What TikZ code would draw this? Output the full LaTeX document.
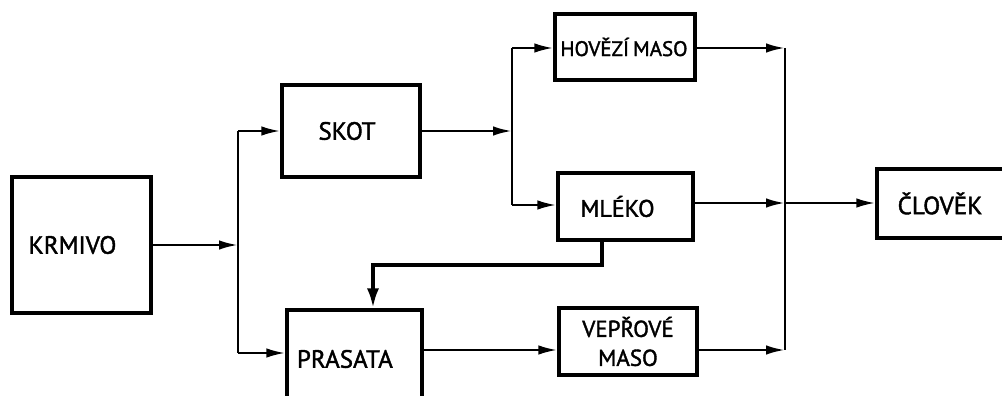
\documentclass[tikz,border=0pt]{standalone}
\usepackage{fontspec}
\setmainfont{PT Sans}[BoldFont=PT Sans,BoldFeatures={FakeBold=1.6}]
\usetikzlibrary{arrows.meta,calc}
\begin{document}
\begin{tikzpicture}[x=1pt,y=-1pt,
  block/.style={draw,line width=3.2pt,inner sep=0pt,anchor=center,font=\bfseries\fontsize{25}{27}\selectfont},
  flow/.style={line width=2.5pt,-{Latex[length=19pt,width=9.5pt]}},
  bus/.style={line width=2.5pt},
  feed/.style={line width=3.8pt,-{Latex[length=20pt,width=12pt]}}]
\useasboundingbox (0,0) rectangle (1002,396);
\clip (0,0) rectangle (1002,396);

% boxes
\node[block,minimum width=139pt,minimum height=136pt] (krmivo) at (81.5,245) {KRMIVO\kern18pt};
\node[block,minimum width=138pt,minimum height=92pt] (skot) at (351,131) {SKOT\kern8pt};
\node[block,minimum width=135pt,minimum height=110pt,
      label={[anchor=west,xshift=8pt,yshift=6pt,font=\bfseries\fontsize{25}{27}\selectfont]west:PRASATA}] (prasata) at (354.5,365) {};
\node[block,minimum width=140pt,minimum height=66pt,font=\bfseries\fontsize{21}{23}\selectfont] (hovezi) at (625,47) {\raisebox{-7pt}{HOVĚZÍ\kern4pt MASO}\kern2pt};
\node[block,minimum width=135pt,minimum height=67pt,font=\bfseries\fontsize{24}{26}\selectfont] (mleko) at (625.5,206.5) {\raisebox{-4pt}{MLÉKO}\kern16pt};
\node[block,minimum width=138pt,minimum height=67pt,align=center,font=\bfseries\fontsize{23}{29}\selectfont] (veprove) at (628,341.5) {VEPŘOVÉ\\MASO};
\node[block,minimum width=140pt,minimum height=69pt] (clovek) at (947,203.5) {\raisebox{-3pt}{ČLOVĚK}\kern14pt};

% distribution points
\coordinate (b1) at (238,245);
\coordinate (b1t) at (238,131);
\coordinate (b1b) at (238,353);
\coordinate (b2) at (512,131);
\coordinate (b2t) at (512,48);
\coordinate (b2b) at (512,205);
\coordinate (b3t) at (785,48);
\coordinate (b3m) at (785,203);
\coordinate (b3b) at (785,350);
\coordinate (m1) at (602,265);
\coordinate (m2) at (373,265);

% feed to livestock
\draw[flow] (krmivo.east |- b1) -- (b1);
\draw[bus] (b1t) -- (b1b);
\draw[flow] (b1t) -- (skot.west |- b1t);
\draw[flow] (b1b) -- (prasata.west |- b1b);

% cattle products
\draw[flow] (skot.east |- b2) -- (b2);
\draw[bus] (b2t) -- (b2b);
\draw[flow] (b2t) -- (hovezi.west |- b2t);
\draw[flow] (b2b) -- (mleko.west |- b2b);

% milk by-product to pigs
\draw[feed] (mleko.south -| m1) -- (m1) -- (m2) -- (prasata.north -| m2);

% pork
\draw[flow] (prasata.east |- b3b) -- (veprove.west |- b3b);

% everything to humans
\draw[flow] (hovezi.east |- b3t) -- (b3t);
\draw[bus] (b3t) -- (b3b);
\draw[flow] (mleko.east |- b3m) -- (b3m);
\draw[flow] (veprove.east |- b3b) -- (b3b);
\draw[flow] (b3m) -- (clovek.west |- b3m);
\end{tikzpicture}
\end{document}
